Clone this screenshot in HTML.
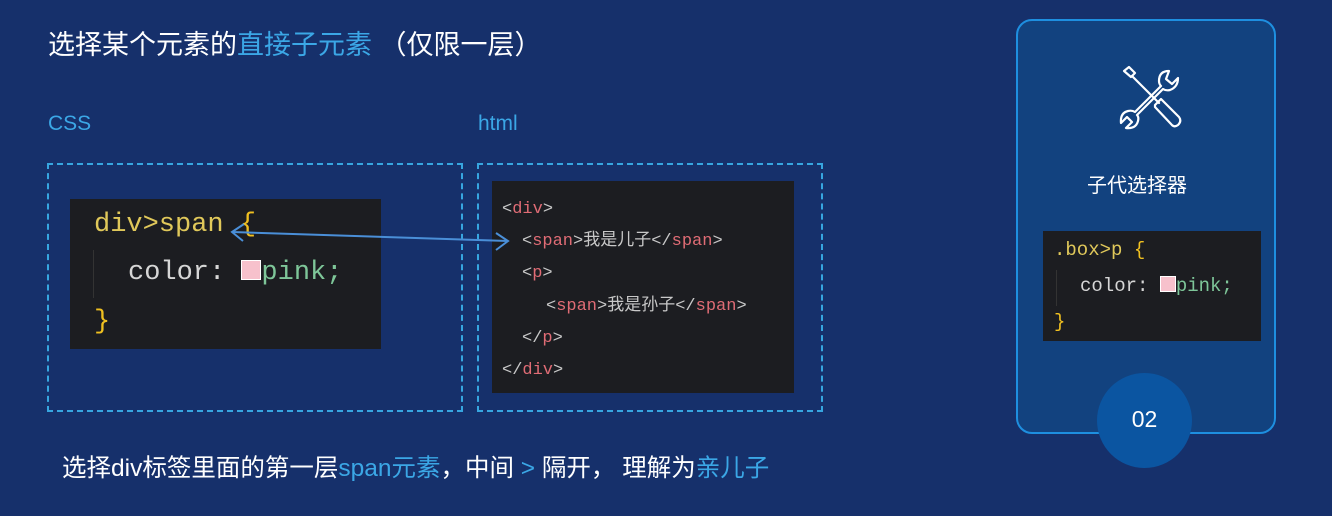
<!DOCTYPE html>
<html><head><meta charset="utf-8"><style>
*{margin:0;padding:0;box-sizing:border-box}
body{width:1332px;height:516px;background:#16306b;position:relative;overflow:hidden;font-family:"Liberation Sans","Noto Sans CJK SC",sans-serif;color:#fff}
.a{position:absolute;white-space:nowrap;line-height:1.2}
.m{font-family:"Liberation Mono","Noto Sans CJK SC",monospace}
.b{color:#3ba7e6}
.dash{position:absolute;border:2px dashed #37a6e0}
.code{position:absolute;background:#1c1d21}
.y{color:#e0c85a}.w{color:#d6d6d6}.g{color:#7ec699}.r{color:#e06c75}.br{color:#f0c020}.t{color:#c8c8c8}
.sw{display:inline-block;background:#f7c1cc;border:1px solid #fff;vertical-align:middle}
</style></head><body>
<div class="a" style="left:48px;top:29px;font-size:27px;">选择某个元素的<span class="b">直接子元素</span> （仅限一层）</div>
<div class="a b" style="left:48px;top:111px;font-size:21px;">CSS</div>
<div class="a b" style="left:478px;top:111px;font-size:21px;">html</div>

<div class="dash" style="left:47px;top:163px;width:416px;height:249px"></div>
<div class="dash" style="left:477px;top:163px;width:346px;height:249px"></div>

<div class="code" style="left:70px;top:199px;width:311px;height:150px"></div>
<div style="position:absolute;left:93px;top:250px;width:1px;height:48px;background:#333"></div>
<div class="a m" style="left:94px;top:209px;font-size:27px;"><span class="y">div&gt;span</span> <span class="br">{</span></div>
<div class="a m w" style="left:128px;top:257px;font-size:27px;">color: <span class="sw" style="width:20px;height:20px;margin-top:-4px"></span><span class="g">pink;</span></div>
<div class="a m br" style="left:94px;top:306px;font-size:27px;">}</div>

<div class="code" style="left:492px;top:181px;width:302px;height:212px"></div>
<div class="a m t" style="left:502px;top:200px;font-size:17px;">&lt;<span class="r">div</span>&gt;</div>
<div class="a m t" style="left:522px;top:232px;font-size:17px;">&lt;<span class="r">span</span>&gt;我是儿子&lt;/<span class="r">span</span>&gt;</div>
<div class="a m t" style="left:522px;top:264px;font-size:17px;">&lt;<span class="r">p</span>&gt;</div>
<div class="a m t" style="left:546px;top:297px;font-size:17px;">&lt;<span class="r">span</span>&gt;我是孙子&lt;/<span class="r">span</span>&gt;</div>
<div class="a m t" style="left:522px;top:329px;font-size:17px;">&lt;/<span class="r">p</span>&gt;</div>
<div class="a m t" style="left:502px;top:361px;font-size:17px;">&lt;/<span class="r">div</span>&gt;</div>

<svg style="position:absolute;left:0;top:0" width="1332" height="516">
<g stroke="#4a8fd8" stroke-width="2" fill="none">
<line x1="232" y1="232" x2="508" y2="241"/>
<polyline points="244,224 232,232 243,241"/>
<polyline points="496,233 508,241 496,250"/>
</g>
</svg>

<div style="position:absolute;left:1016px;top:19px;width:260px;height:415px;border:2px solid #1e8fe0;border-radius:16px;background:#12427f"></div>
<svg style="position:absolute;left:1115px;top:65px" width="72" height="70" viewBox="0 0 72 70">
<g stroke="#fff" stroke-width="2.2" fill="none" stroke-linecap="round" stroke-linejoin="round">
<path d="M9 6 L14 2 L20 8 L16 12 Z"/>
<line x1="17" y1="11" x2="44" y2="38"/>
<path d="M40 40 L46 34 L64 52 Q67 56 63 60 Q59 63 56 59 L40 42 Z"/>
<path d="M54 6 Q44 6 44 16 Q44 19 46 21 L20 47 Q17 45 13 46 Q5 48 6 58 L12 52 L17 57 L11 63 Q21 64 23 56 Q24 52 22 50 L48 24 Q51 26 55 25 Q63 22 63 13 L57 19 L51 14 Z"/>
</g>
</svg>
<div class="a" style="left:1087px;top:174px;font-size:20px;">子代选择器</div>
<div class="code" style="left:1043px;top:231px;width:218px;height:110px"></div>
<div style="position:absolute;left:1056px;top:270px;width:1px;height:36px;background:#333"></div>
<div class="a m" style="left:1054px;top:239px;font-size:19px;"><span class="y">.box&gt;p</span> <span class="br">{</span></div>
<div class="a m w" style="left:1080px;top:275px;font-size:19px;">color: <span class="sw" style="width:16px;height:16px;margin-top:-3px"></span><span class="g">pink;</span></div>
<div class="a m br" style="left:1054px;top:311px;font-size:19px;">}</div>
<div style="position:absolute;left:1097px;top:373px;width:95px;height:95px;border-radius:50%;background:#0b55a1"></div>
<div class="a" style="left:1097px;top:406px;width:95px;text-align:center;font-size:23px;">02</div>

<div class="a" style="left:62px;top:454px;font-size:24.5px;">选择div标签里面的第一层<span class="b">span元素</span>，中间 <span class="b">&gt;</span> 隔开， 理解为<span class="b">亲儿子</span></div>
</body></html>
